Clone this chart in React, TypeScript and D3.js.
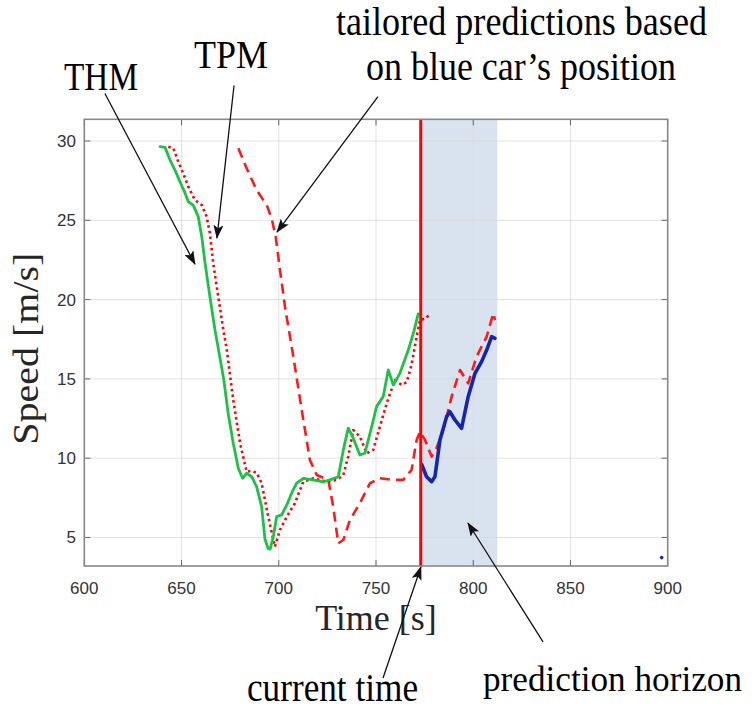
import React from 'react';
import * as d3 from 'd3';

// THM (green solid)
const thmT = [639.0, 641.5, 644.1, 646.6, 649.2, 651.8, 653.5, 656.0, 658.6, 660.4, 662.1, 664.6, 667.2, 669.5, 671.8, 674.0, 676.6, 679.2, 681.4, 683.5, 686.1, 688.6, 691.2, 692.9, 694.5, 695.6, 697.2, 698.9, 701.5, 704.1, 707.0, 709.2, 712.6, 717.7, 722.9, 726.3, 730.6, 733.2, 735.7, 738.3, 741.7, 744.3, 747.8, 750.3, 753.7, 756.3, 758.9, 762.3, 766.6, 769.5, 771.7];
const thmV = [29.65, 29.6, 28.8, 28.17, 27.43, 26.72, 26.17, 25.96, 25.23, 23.97, 22.3, 20.18, 18.08, 16.5, 14.9, 12.8, 10.94, 9.36, 8.73, 9.05, 8.83, 8.2, 6.94, 4.9, 4.3, 4.26, 5.05, 6.31, 6.42, 7.05, 7.9, 8.42, 8.73, 8.63, 8.5, 8.63, 8.83, 10.52, 11.89, 11.26, 10.2, 10.31, 11.99, 13.25, 13.88, 15.56, 14.62, 15.35, 16.82, 18.0, 19.1];

// TPM (red dotted)
const tpmT = [643.2, 645.8, 648.3, 650.9, 653.5, 656.9, 660.4, 662.9, 664.6, 666.3, 668.9, 671.5, 673.2, 676.6, 680.1, 683.5, 686.0, 688.6, 691.2, 694.6, 698.0, 700.6, 704.1, 708.3, 712.6, 717.7, 724.6, 729.8, 733.2, 735.7, 738.3, 741.7, 745.2, 748.6, 752.0, 755.5, 759.7, 763.2, 765.8, 768.3, 770.9, 772.6, 776.0, 777.0];
const tpmV = [29.64, 29.54, 28.7, 27.96, 27.12, 26.28, 25.96, 25.23, 24.18, 22.29, 20.18, 18.08, 16.9, 13.67, 10.94, 9.15, 9.2, 9.08, 8.42, 6.31, 4.42, 5.47, 6.31, 7.16, 8.52, 8.73, 8.52, 8.63, 8.94, 10.1, 11.78, 11.36, 10.31, 10.52, 11.99, 13.46, 14.93, 14.62, 14.8, 15.9, 17.66, 18.71, 18.82, 19.03];

// tailored prediction (red dashed)
const tailT = [679.2, 683.5, 688.6, 693.8, 696.4, 698.5, 700.6, 703.2, 707.5, 711.8, 716.0, 719.5, 725.5, 728.0, 730.6, 733.2, 736.6, 741.7, 746.9, 752.0, 758.9, 764.0, 768.3, 770.9, 772.6, 775.2, 778.6, 781.0, 784.6, 788.9, 793.2, 797.4, 801.7, 806.9, 810.3, 811.2];
const tailV = [29.54, 28.28, 26.91, 25.96, 25.1, 23.9, 21.9, 19.55, 16.4, 13.04, 9.89, 8.94, 8.63, 6.94, 4.63, 4.84, 6.1, 7.16, 8.42, 8.73, 8.63, 8.63, 9.26, 11.15, 11.67, 11.15, 10.1, 10.6, 11.78, 13.88, 15.56, 14.72, 16.4, 17.66, 19.14, 18.71];

// blue car (blue solid)
const blueT = [773.5, 776.0, 778.6, 780.3, 782.9, 786.3, 788.0, 790.6, 794.0, 797.4, 800.9, 804.3, 806.9, 809.5, 811.2];
const blueV = [9.6, 8.83, 8.52, 8.83, 11.15, 12.61, 12.93, 12.41, 11.88, 13.88, 15.35, 16.09, 16.82, 17.66, 17.56];

const currentTime = 773;
const horizonEnd = 812.4;
const strayDot = [896.9, 3.73];

const xTicks = [600, 650, 700, 750, 800, 850, 900];
const yTicks = [5, 10, 15, 20, 25, 30];

// arrows: [startT, startV, tipT, tipV] in data units
const arrows = [
  [610.6, 33.0, 656.9, 22.24],
  [677.0, 33.5, 668.2, 23.88],
  [751.0, 32.8, 699.1, 24.26],
  [753.6, -3.86, 773.1, 3.14],
  [835.9, -1.59, 797.3, 5.91],
];

const W = 752;
const H = 710;
const left = 84.3, right = 667.7, top = 119.3, bottom = 566;

const App = () => {
  const x = d3.scaleLinear().domain([600, 900]).range([left, right]);
  const y = d3.scaleLinear().domain([3.2, 31.37]).range([bottom, top]);

  const line = d3.line<number>()
    .x(d => d[0])
    .y(d => d[1]);
  const path = (ts: number[], vs: number[]) =>
    line(ts.map((t, i) => [x(t), y(vs[i])]) as any) as string;

  const annoFont = "'Liberation Serif', 'Times New Roman', serif";
  const tickFont = "'Liberation Sans', Arial, sans-serif";

  return (
    <svg width={W} height={H} style={{ position: 'absolute', left: 0, top: 0, background: '#fff' }}>
      <defs>
        <marker id="ah" markerUnits="userSpaceOnUse" markerWidth="14" markerHeight="10"
          refX="13" refY="5" orient="auto">
          <path d="M0,0 L14,5 L0,10 L3,5 Z" fill="#111" />
        </marker>
        <clipPath id="plot">
          <rect x={left} y={top} width={right - left} height={bottom - top} />
        </clipPath>
      </defs>
      <rect x={0} y={0} width={W} height={H} fill="#fff" />

      {/* prediction horizon */}
      <rect x={x(currentTime)} y={top} width={x(horizonEnd) - x(currentTime)} height={bottom - top} fill="#d9e3ef" />

      {/* grid */}
      <g stroke="#d6d6d6" strokeOpacity={0.7} strokeWidth={1}>
        {xTicks.slice(1, -1).map(t => <line key={'gx' + t} x1={x(t)} x2={x(t)} y1={top} y2={bottom} />)}
        {yTicks.map(v => <line key={'gy' + v} x1={left} x2={right} y1={y(v)} y2={y(v)} />)}
      </g>

      {/* ticks, inward on all sides */}
      <g stroke="#666" strokeWidth={1}>
        {xTicks.map(t => (
          <g key={'tx' + t}>
            <line x1={x(t)} x2={x(t)} y1={bottom} y2={bottom - 6} />
            <line x1={x(t)} x2={x(t)} y1={top} y2={top + 6} />
          </g>
        ))}
        {yTicks.map(v => (
          <g key={'ty' + v}>
            <line x1={left} x2={left + 6} y1={y(v)} y2={y(v)} />
            <line x1={right} x2={right - 6} y1={y(v)} y2={y(v)} />
          </g>
        ))}
      </g>

      {/* data */}
      <g clipPath="url(#plot)" fill="none" strokeLinejoin="round">
        <path d={path(tailT, tailV)} stroke="#ff1a1a" strokeWidth={2.6} strokeDasharray="10,6" />
        <path d={path(tpmT, tpmV)} stroke="#ff0000" strokeWidth={2.6} strokeDasharray="2.5,3.2" />
        <path d={path(thmT, thmV)} stroke="#1cc245" strokeWidth={2.8} strokeLinecap="round" />
        <path d={path(blueT, blueV)} stroke="#1426b0" strokeWidth={3.6} strokeLinecap="round" />
        <circle cx={x(strayDot[0])} cy={y(strayDot[1])} r={1.8} fill="#1426b0" />
      </g>

      {/* current time */}
      <line x1={x(currentTime)} x2={x(currentTime)} y1={top} y2={bottom} stroke="#ff0000" strokeWidth={3} />

      {/* axes box */}
      <rect x={left} y={top} width={right - left} height={bottom - top} fill="none" stroke="#888" strokeWidth={1.6} />

      {/* tick labels */}
      <g fontFamily={tickFont} fontSize={17} fill="#333">
        {xTicks.map(t => (
          <text key={'lx' + t} x={x(t)} y={594} textAnchor="middle">{t}</text>
        ))}
        {yTicks.map(v => (
          <text key={'ly' + v} x={76} y={y(v) + 6} textAnchor="end">{v}</text>
        ))}
      </g>

      {/* axis titles */}
      <text x={(left + right) / 2} y={630} textAnchor="middle" fontFamily={annoFont} fontSize={36} fill="#262626">Time [s]</text>
      <text transform={`translate(38,${(top + bottom) / 2 + 6}) rotate(-90)`} textAnchor="middle"
        fontFamily={annoFont} fontSize={36} fill="#262626" textLength={192} lengthAdjust="spacingAndGlyphs">Speed [m/s]</text>

      {/* arrows */}
      <g stroke="#111" strokeWidth={1.3}>
        {arrows.map((a, i) => (
          <line key={'ar' + i} x1={x(a[0])} y1={y(a[1])} x2={x(a[2])} y2={y(a[3])} markerEnd="url(#ah)" />
        ))}
      </g>

      {/* annotations */}
      <g fontFamily={annoFont} fontSize={40} fill="#000">
        <text x={64} y={90} textLength={74} lengthAdjust="spacingAndGlyphs">THM</text>
        <text x={194} y={68} textLength={74} lengthAdjust="spacingAndGlyphs">TPM</text>
        <text x={336} y={35} textLength={371} lengthAdjust="spacingAndGlyphs">tailored predictions based</text>
        <text x={366} y={80} textLength={310} lengthAdjust="spacingAndGlyphs">on blue car’s position</text>
        <text x={247} y={701} textLength={171} lengthAdjust="spacingAndGlyphs">current time</text>
        <text x={483} y={691} fontSize={36} textLength={259} lengthAdjust="spacingAndGlyphs">prediction horizon</text>
      </g>
    </svg>
  );
};

export default App;
